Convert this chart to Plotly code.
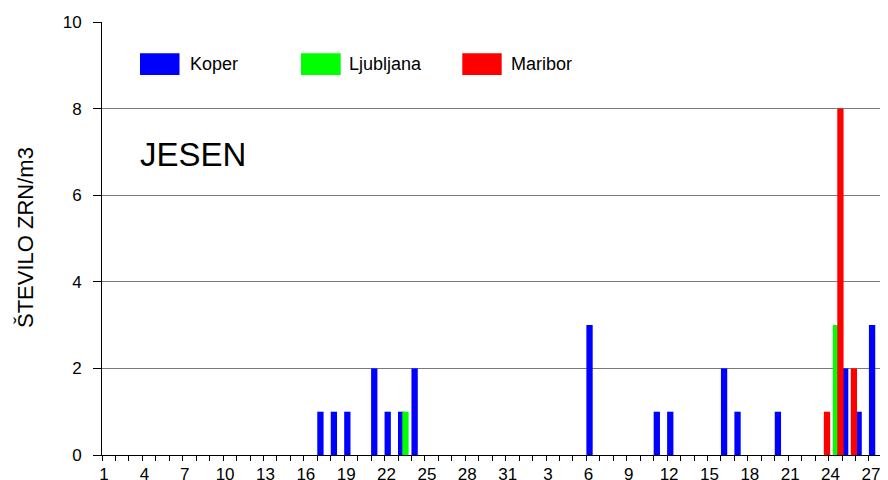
import plotly.graph_objects as go

# ---- data -------------------------------------------------------------
# categories: days of two consecutive months (31 + 28 shown)
days = [1, 2, 3, 4, 5, 6, 7, 8, 9, 10, 11, 12, 13, 14, 15, 16, 17, 18, 19, 20,
        21, 22, 23, 24, 25, 26, 27, 28, 29, 30, 31,
        1, 2, 3, 4, 5, 6, 7, 8, 9, 10, 11, 12, 13, 14, 15, 16, 17, 18, 19, 20,
        21, 22, 23, 24, 25, 26, 27, 28]

koper = [0, 0, 0, 0, 0, 0, 0, 0, 0, 0, 0, 0, 0, 0, 0, 0, 1, 1, 1, 0,
         2, 1, 1, 2, 0, 0, 0, 0, 0, 0, 0,
         0, 0, 0, 0, 0, 3, 0, 0, 0, 0, 1, 1, 0, 0, 0, 2, 1, 0, 0, 1,
         0, 0, 0, 0, 2, 1, 3, 6]

ljubljana = [0, 0, 0, 0, 0, 0, 0, 0, 0, 0, 0, 0, 0, 0, 0, 0, 0, 0, 0, 0,
             0, 0, 1, 0, 0, 0, 0, 0, 0, 0, 0,
             0, 0, 0, 0, 0, 0, 0, 0, 0, 0, 0, 0, 0, 0, 0, 0, 0, 0, 0, 0,
             0, 0, 0, 3, 0, 0, 0, 2]

maribor = [0, 0, 0, 0, 0, 0, 0, 0, 0, 0, 0, 0, 0, 0, 0, 0, 0, 0, 0, 0,
           0, 0, 0, 0, 0, 0, 0, 0, 0, 0, 0,
           0, 0, 0, 0, 0, 0, 0, 0, 0, 0, 0, 0, 0, 0, 0, 0, 0, 0, 0, 0,
           0, 0, 1, 8, 2, 0, 0, 0]

series_names = ["Koper", "Ljubljana", "Maribor"]
y_title = "ŠTEVILO ZRN/m3"
season = "JESEN"
y_ticks = [0, 2, 4, 6, 8, 10]

# ---- styling ------------------------------------------------------------
FONT = "Liberation Sans, Arial, sans-serif"
colors = ["#0000FF", "#00FF00", "#FF0000"]
PAGE_OFF = 8                      # default body margin of the html page
W_FIG, H_FIG = 888 - PAGE_OFF, 480 - PAGE_OFF
L, T, B = 102 - PAGE_OFF, 22 - PAGE_OFF, 25
PLOT_W = W_FIG - L
PLOT_H = H_FIG - T - B
PX_PER_CAT = 13.455
x_max = PLOT_W / PX_PER_CAT

bar_w = 6.3 / PX_PER_CAT
offsets = [0.0, 4.3 / PX_PER_CAT, 8.7 / PX_PER_CAT]

pos = list(range(len(days)))
ticktext = [str(d) if i % 3 == 0 else "" for i, d in enumerate(days)]

fig = go.Figure()
for name, vals, col, off in zip(series_names, [koper, ljubljana, maribor], colors, offsets):
    fig.add_trace(go.Bar(
        x=pos, y=vals, name=name, offset=off, width=bar_w,
        marker=dict(color=col, line=dict(width=0)),
        showlegend=False,
    ))


# helpers: page pixel -> paper coordinate
def xp(px):
    return (px - PAGE_OFF - L) / PLOT_W


def yp(py):
    return (H_FIG - B - (py - PAGE_OFF)) / PLOT_H


# manual legend (large swatches like the original)
legend_sw = [(140, 179.5), (301, 340.7), (462.3, 501.7)]
legend_tx = [189.3, 348.3, 510]
for (x0, x1), tx, name, col in zip(legend_sw, legend_tx, series_names, colors):
    fig.add_shape(type="rect", xref="paper", yref="paper",
                  x0=xp(x0), x1=xp(x1), y0=yp(75), y1=yp(53.3),
                  fillcolor=col, line=dict(width=0), layer="above")
    fig.add_annotation(xref="paper", yref="paper", x=xp(tx - 1), y=yp(64),
                       text=name, showarrow=False, xanchor="left", yanchor="middle",
                       font=dict(family=FONT, size=18, color="#000"))

fig.add_annotation(xref="paper", yref="paper", x=xp(138), y=yp(154),
                   text=season, showarrow=False, xanchor="left", yanchor="middle",
                   font=dict(family=FONT, size=33, color="#000"))

fig.add_annotation(xref="paper", yref="paper", x=xp(26), y=yp(238),
                   text=y_title, textangle=-90, showarrow=False,
                   xanchor="center", yanchor="middle",
                   font=dict(family=FONT, size=22, color="#000"))

fig.update_layout(
    width=W_FIG, height=H_FIG,
    margin=dict(l=L, r=0, t=T, b=B, pad=0, autoexpand=False),
    paper_bgcolor="white", plot_bgcolor="white",
    barmode="overlay",
    showlegend=False,
    font=dict(family=FONT, size=17, color="#000"),
    xaxis=dict(
        range=[0, x_max], tickmode="array", tickvals=pos, ticktext=ticktext,
        ticks="outside", ticklen=5, tickwidth=1, tickcolor="#000",
        ticklabelshift=2, ticklabelstandoff=-1, automargin=False,
        showline=True, linecolor="#000", linewidth=1,
        showgrid=False, zeroline=False,
        tickfont=dict(family=FONT, size=17, color="#000"),
    ),
    xaxis2=dict(
        overlaying="x", anchor="y", side="bottom", automargin=False,
        range=[0, x_max], tickmode="array", tickvals=pos,
        ticks="inside", ticklen=5, tickwidth=1, tickcolor="#000",
        showticklabels=False, showline=False, showgrid=False, zeroline=False,
    ),
    yaxis=dict(
        range=[0, 10], tickmode="array", tickvals=y_ticks,
        ticks="outside", ticklen=8, tickwidth=1, tickcolor="#000",
        showline=True, linecolor="#000", linewidth=1, automargin=False,
        showgrid=True, gridcolor="#7a7a7a", gridwidth=1, zeroline=False,
        tickfont=dict(family=FONT, size=17, color="#000"),
        ticklabelstandoff=8,
    ),
)

fig.write_html("out.html")
